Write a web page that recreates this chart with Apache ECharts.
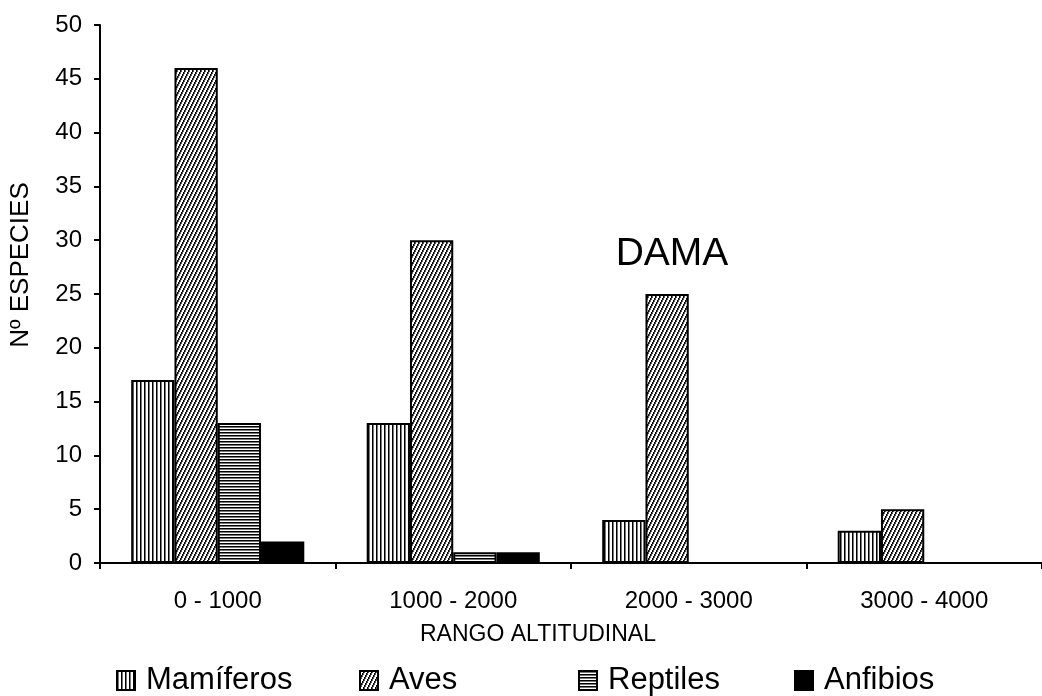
<!DOCTYPE html>
<html>
<head>
<meta charset="utf-8">
<script src="https://cdn.jsdelivr.net/npm/echarts@6/dist/echarts.min.js"></script>
<style>html,body{margin:0;padding:0;background:#fff}#c{width:1042px;height:696px}</style>
</head>
<body>
<div id="c"></div>
<script>
const categories = ['0 - 1000', '1000 - 2000', '2000 - 3000', '3000 - 4000'];
const seriesNames = ['Mamíferos', 'Aves', 'Reptiles', 'Anfibios'];
const mamiferos = [17, 13, 4, 3];
const aves = [46, 30, 25, 5];
const reptiles = [13, 1, 0, 0];
const anfibios = [2, 1, 0, 0];
const yTicks = { min: 0, max: 50, interval: 5 };

function makeCanvas(w, h, draw) {
  const c = document.createElement('canvas');
  c.width = w; c.height = h;
  const ctx = c.getContext('2d');
  ctx.fillStyle = '#fff';
  ctx.fillRect(0, 0, w, h);
  draw(ctx);
  return c;
}
const vertPat = makeCanvas(4, 4, ctx => {
  ctx.fillStyle = '#000'; ctx.fillRect(0, 0, 1, 4);
  ctx.fillStyle = '#777'; ctx.fillRect(1, 0, 1, 4);
});
const diagPat = makeCanvas(4, 8, ctx => {
  for (let y = 0; y < 8; y++) {
    const x = Math.floor((7 - y) / 2) % 4;
    ctx.fillStyle = '#000'; ctx.fillRect(x, y, 1, 1);
    ctx.fillStyle = '#555'; ctx.fillRect((x + 1) % 4, y, 1, 1);
  }
});
const horzPat = makeCanvas(4, 3, ctx => {
  ctx.fillStyle = '#000'; ctx.fillRect(0, 0, 4, 1);
  ctx.fillStyle = '#777'; ctx.fillRect(0, 1, 4, 1);
});
const fills = [
  { image: vertPat, repeat: 'repeat' },
  { image: diagPat, repeat: 'repeat' },
  { image: horzPat, repeat: 'repeat' },
  '#000'
];
const values = [mamiferos, aves, reptiles, anfibios];
const legendLefts = [116, 359, 578, 794];

const chart = echarts.init(document.getElementById('c'));
const font = 'Liberation Sans, Arial, sans-serif';
chart.setOption({
  animation: false,
  backgroundColor: '#fff',
  textStyle: { fontFamily: font },
  grid: { left: 100, top: 25, width: 950, height: 538 },
  legend: seriesNames.map((n, i) => ({
    data: [n],
    left: legendLefts[i],
    top: 665,
    padding: 0,
    icon: 'rect',
    itemWidth: 18,
    itemHeight: 19,
    textStyle: { fontSize: 31, color: '#000', fontFamily: font, padding: [0, 0, 0, 6] }
  })),
  xAxis: {
    type: 'category',
    data: categories,
    axisLine: { lineStyle: { color: '#000', width: 2 } },
    axisTick: { show: true, length: 6, lineStyle: { color: '#000', width: 2 } },
    axisLabel: { color: '#000', fontSize: 24, margin: 26, fontFamily: font }
  },
  yAxis: {
    type: 'value',
    min: yTicks.min, max: yTicks.max, interval: yTicks.interval,
    splitLine: { show: false },
    axisLine: { show: true, lineStyle: { color: '#000', width: 2 } },
    axisTick: { show: true, length: 6, lineStyle: { color: '#000', width: 2 } },
    axisLabel: { color: '#000', fontSize: 24, margin: 18, fontFamily: font }
  },
  graphic: [
    { type: 'text', position: [538, 635], style: { text: 'RANGO ALTITUDINAL', fill: '#000', font: '23px ' + font, textAlign: 'center', textVerticalAlign: 'middle' } },
    { type: 'text', position: [672, 254], style: { text: 'DAMA', fill: '#000', font: '39px ' + font, textAlign: 'center', textVerticalAlign: 'middle' } },
    { type: 'text', position: [21, 265], rotation: Math.PI / 2, style: { text: 'Nº ESPECIES', fill: '#000', font: '26px ' + font, textAlign: 'center', textVerticalAlign: 'middle' } }
  ],
  series: seriesNames.map((n, i) => ({
    name: n,
    type: 'bar',
    data: values[i],
    barGap: '0%',
    barCategoryGap: '26.5%',
    itemStyle: { color: fills[i], borderColor: '#000', borderWidth: 2 }
  }))
});
</script>
</body>
</html>
